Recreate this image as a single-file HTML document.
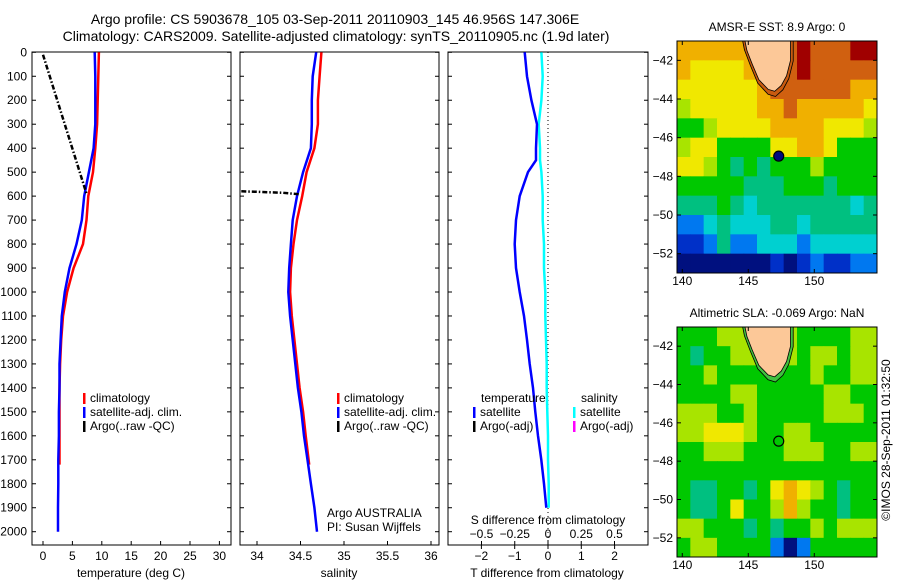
<!DOCTYPE html>
<html><head><meta charset="utf-8"><style>
body{margin:0;background:#fff;}
svg{display:block;font-family:"Liberation Sans",sans-serif;}
text{fill:#000;}
</style></head><body>
<svg id="c" width="900" height="580" viewBox="0 0 900 580" xmlns="http://www.w3.org/2000/svg">
<defs>
<clipPath id="clip1"><rect x="677" y="41" width="200" height="232"/></clipPath>
<clipPath id="clip2"><rect x="677" y="327" width="200" height="230"/></clipPath>
</defs>
<rect width="900" height="580" fill="#fff"/>
<text x="335" y="24" font-size="14" text-anchor="middle">Argo profile: CS 5903678_105 03-Sep-2011 20110903_145 46.956S 147.306E</text>
<text x="336" y="41" font-size="14" text-anchor="middle">Climatology: CARS2009. Satellite-adjusted climatology: synTS_20110905.nc (1.9d later)</text>
<g id="g"></g>
<text transform="translate(890,440) rotate(-90)" font-size="12" text-anchor="middle">©IMOS 28-Sep-2011 01:32:50</text>
</svg>
<script>
// ---- data ----
const depthTicks=[0,100,200,300,400,500,600,700,800,900,1000,1100,1200,1300,1400,1500,1600,1700,1800,1900,2000];
const tempTicks=[0,5,10,15,20,25,30];
const salTicks=[34,34.5,35,35.5,36];
const tdiffTicks=[-2,-1,0,1,2];
const sdiffTicks=[-0.5,-0.25,0,0.25,0.5];
const climDepth=[0,100,200,300,400,500,600,700,800,900,1000,1100,1200,1300,1400,1500,1600,1720];
const climTemp=[9.5,9.4,9.3,9.2,8.9,8.5,7.7,7.4,6.8,5.2,4.1,3.4,3.1,2.9,2.8,2.8,2.8,2.8];
const satDepth=[0,100,200,300,400,500,600,700,800,900,1000,1100,1200,1300,1400,1500,1600,1700,1800,1900,2000];
const satTemp=[8.8,8.9,8.9,8.9,8.6,7.8,7.0,6.6,5.7,4.5,3.7,3.2,3.0,2.8,2.8,2.7,2.7,2.6,2.6,2.55,2.55];
const argoDepth=[10,590];
const argoTemp=[0,7.4];
const climSal=[34.74,34.72,34.70,34.70,34.66,34.57,34.52,34.46,34.42,34.39,34.38,34.40,34.43,34.46,34.49,34.53,34.56,34.60];
const satSal=[34.68,34.64,34.63,34.63,34.62,34.53,34.46,34.41,34.39,34.37,34.36,34.38,34.41,34.44,34.47,34.51,34.54,34.58,34.62,34.66,34.69];
const argoSalDepth=[580,582,586,592];
const argoSal=[33.82,34.0,34.3,34.48];
const diffDepth=[0,100,200,300,400,450,500,600,700,800,900,1000,1100,1200,1300,1400,1500,1600,1700,1800,1900];
const tDiff=[-0.7,-0.63,-0.5,-0.33,-0.36,-0.36,-0.6,-0.85,-0.96,-1.0,-0.96,-0.85,-0.72,-0.63,-0.55,-0.45,-0.38,-0.3,-0.2,-0.12,-0.05];
const sDiff=[-0.05,-0.04,-0.05,-0.07,-0.06,-0.06,-0.05,-0.04,-0.04,-0.03,-0.03,-0.02,-0.02,-0.015,-0.01,-0.01,-0.005,0,0,0.005,0.005];
const latTicks=[-42,-44,-46,-48,-50,-52];
const lonTicks=[140,145,150];
const sstGrid=[
[8,8,8,8,8,8,8,8,9,10,9,9,9,10,10],
[8,7,7,7,7,8,8,8,9,10,9,9,9,9,9],
[7,7,7,7,7,7,8,9,9,9,9,9,9,8,8],
[6,7,7,7,7,7,8,8,9,8,8,8,8,8,7],
[5,5,6,7,7,7,7,8,8,8,8,7,7,7,6],
[6,7,7,5,5,5,5,7,7,8,8,7,5,5,5],
[7,7,6,5,4,5,4,5,5,5,6,5,5,5,5],
[5,5,5,5,5,4,4,4,5,5,5,4,5,5,5],
[4,4,4,5,4,3,4,4,4,4,4,4,4,3,4],
[2,2,3,4,3,3,3,4,4,3,4,4,4,4,4],
[1,1,2,4,2,2,3,3,3,2,3,3,3,3,3],
[0,0,0,0,0,0,0,1,0,1,2,1,1,2,2]];
const slaGrid=[
[5,5,5,6,6,6,6,6,6,5,5,5,5,6,6],
[5,4,5,5,6,6,6,6,6,5,6,6,5,6,6],
[5,5,6,5,5,5,5,5,5,5,6,5,5,6,6],
[5,5,5,5,6,6,5,5,5,5,5,6,6,5,5],
[6,6,6,5,5,6,5,5,5,5,5,6,6,6,5],
[6,6,7,7,7,6,5,5,6,6,5,5,5,5,5],
[5,5,6,6,6,5,5,5,6,6,6,5,5,6,6],
[5,5,5,5,5,5,5,5,5,5,5,5,5,5,5],
[5,4,4,5,5,4,5,7,8,7,6,5,4,5,5],
[5,4,4,5,7,5,5,6,8,6,5,5,4,5,5],
[6,6,5,5,5,4,5,4,5,5,6,5,6,6,6],
[5,6,6,5,5,5,5,2,0,2,5,5,5,5,5]];
const tasLon=[144.6,148.2,148.2,147.9,147.5,147.0,146.5,145.8,145.3,144.9];
const tasLat=[-40.5,-40.5,-42.0,-42.8,-43.3,-43.6,-43.5,-43.0,-42.2,-41.5];
const argoLon=147.306, argoLat=-46.956;

// ---- helpers ----
const NS='http://www.w3.org/2000/svg';
const G=document.getElementById('g');
function mk(tag,attrs,parent){const e=document.createElementNS(NS,tag);for(const k in attrs)e.setAttribute(k,attrs[k]);(parent||G).appendChild(e);return e;}
const TOP=52,BOT=545;
const yD=d=>52.3+d*0.2397;
const xT=t=>43+t*5.88;
const xS=s=>257+(s-34)*87;
const xTd=t=>548+t*33.3;
const xSd=s=>548+s*133;
function line(xs,ys,fx,fy,color,w,dash,name){
  const pts=xs.map((v,i)=>fx(v).toFixed(1)+','+fy(ys[i]).toFixed(1)).join(' ');
  const p=mk('polyline',{points:pts,fill:'none',stroke:color,'stroke-width':w});
  if(dash)p.setAttribute('stroke-dasharray',dash);
  
  
}
function box(x0,x1,name){
  const r=mk('rect',{x:x0,y:TOP,width:x1-x0,height:BOT-TOP,fill:'none',stroke:'#000','stroke-width':1});
  
  
  depthTicks.forEach(d=>{mk('line',{x1:x0,x2:x0+4,y1:yD(d),y2:yD(d),stroke:'#000'});mk('line',{x1:x1-4,x2:x1,y1:yD(d),y2:yD(d),stroke:'#000'});});
}
function txt(x,y,s,size,anchor,name){const t=mk('text',{x:x,y:y,'font-size':size,'text-anchor':anchor||'start'});t.textContent=s;
  
  
  return t;}
function xticks(vals,fx,y,inward,labY,name){vals.forEach(v=>{const x=fx(v);mk('line',{x1:x,x2:x,y1:y,y2:y-4*inward,stroke:'#000'});txt(x,labY,String(v).replace('-','\u2212'),12,'middle',name);});}

// ---- panel 1 ----
box(32,231,'temperature-panel');
depthTicks.forEach(d=>txt(27,yD(d)+4,String(d),12,'end','depth-tick-label'));
xticks(tempTicks,xT,BOT,1,560,'temperature-tick-label');
txt(131,577,'temperature (deg C)',12,'middle','temperature-axis-title');
line(climTemp,climDepth,xT,yD,'#ff0000',2.5,null,'temp-climatology-line');
line(satTemp,satDepth,xT,yD,'#0000ff',2.5,null,'temp-satellite-line');
line(argoTemp,argoDepth,xT,yD,'#000',2.5,'5,2,1.5,2','temp-argo-line');
function legend(x,y,items,prefix){items.forEach((it,i)=>{mk('rect',{x:x,y:y+i*14-9,width:2.5,height:11,fill:it[1]});txt(x+7,y+i*14,it[0],12,'start',prefix+'-legend-entry');});}
legend(83,402,[['climatology','#f00'],['satellite-adj. clim.','#00f'],['Argo(..raw -QC)','#000']],'temp');

// ---- panel 2 ----
box(240,439,'salinity-panel');
xticks(salTicks,xS,BOT,1,560,'salinity-tick-label');
txt(339,577,'salinity',12,'middle','salinity-axis-title');
line(climSal,climDepth,xS,yD,'#ff0000',2.5,null,'sal-climatology-line');
line(satSal,satDepth,xS,yD,'#0000ff',2.5,null,'sal-satellite-line');
line(argoSal,argoSalDepth,xS,yD,'#000',2.5,'5,2,1.5,2','sal-argo-line');
legend(337,402,[['climatology','#f00'],['satellite-adj. clim.','#00f'],['Argo(..raw -QC)','#000']],'sal');
txt(327,517,'Argo AUSTRALIA',12,'start','argo-program-label');
txt(327,531,'PI: Susan Wijffels',12,'start','pi-label');

// ---- panel 3 ----
box(448,648,'difference-panel');
mk('line',{x1:548,x2:548,y1:TOP,y2:BOT,stroke:'#000','stroke-dasharray':'1,3'});
xticks(tdiffTicks,xTd,BOT,-1,560,'t-diff-tick-label');
sdiffTicks.forEach(v=>{const x=xSd(v);mk('line',{x1:x,x2:x,y1:BOT,y2:BOT-4,stroke:'#000'});});
sdiffTicks.forEach(v=>txt(xSd(v),538,String(v).replace('-','\u2212'),12,'middle','s-diff-tick-label'));
txt(548,524,'S difference from climatology',12,'middle','s-diff-axis-title');
txt(547,577,'T difference from climatology',12,'middle','t-diff-axis-title');
line(sDiff,diffDepth,xSd,yD,'#00ffff',2.5,null,'sal-diff-line');
line(tDiff,diffDepth,xTd,yD,'#0000ff',2.5,null,'temp-diff-line');
txt(481,402,'temperature',12,'start','diff-legend-temp-header');
txt(581,402,'salinity',12,'start','diff-legend-sal-header');
legend(473,416,[['satellite','#00f'],['Argo(-adj)','#000']],'diff-temp');
legend(573,416,[['satellite','#0ff'],['Argo(-adj)','#f0f']],'diff-sal');

// ---- maps ----
const cmap=['#00107f','#0030c8','#0078f0','#00d0d0','#00c080','#00c800','#a8e400','#f0e800','#f0b000','#d06010','#a00000'];
function drawMap(y0,y1,grid,title,shelf,filledDot,name,clip){
  const x0=677,x1=877;
  const fx=lon=>x0+(lon-139.6)*13.2;
  const fy=lat=>y0+(-41-lat)*((y1-y0)/12);
  const g=mk('g',{'clip-path':'url(#'+clip+')'});
  
  
  const cw=(x1-x0)/grid[0].length,ch=(y1-y0)/grid.length;
  grid.forEach((row,r)=>row.forEach((v,c)=>{const cell=mk('rect',{x:x0+c*cw,y:y0+r*ch,width:cw+0.5,height:ch+0.5,fill:cmap[v]},g);
    
    }));
  const pts=tasLon.map((lo,i)=>fx(lo)+','+fy(tasLat[i])).join(' ');
  const cx=146.5,cy=-41.8;
  const big=tasLon.map((lo,i)=>fx(cx+(lo-cx)*1.12)+','+fy(cy+(tasLat[i]-cy)*1.15)).join(' ');
  mk('polygon',{points:big,fill:shelf,stroke:'#000','stroke-width':0.8},g);
  mk('polygon',{points:pts,fill:'#fcc898',stroke:'#000','stroke-width':0.8},g);
  mk('circle',{cx:fx(argoLon),cy:fy(argoLat),r:5,fill:filledDot?'#000a80':'none',stroke:'#000','stroke-width':1.2},g);
  mk('rect',{x:x0,y:y0,width:x1-x0,height:y1-y0,fill:'none',stroke:'#000'});
  latTicks.forEach(l=>{mk('line',{x1:x0,x2:x0+4,y1:fy(l),y2:fy(l),stroke:'#000'});mk('line',{x1:x1-4,x2:x1,y1:fy(l),y2:fy(l),stroke:'#000'});txt(673,fy(l)+4,String(l).replace('-','\u2212'),12,'end','lat-tick-label');});
  lonTicks.forEach(l=>{mk('line',{x1:fx(l),x2:fx(l),y1:y1,y2:y1-4,stroke:'#000'});mk('line',{x1:fx(l),x2:fx(l),y1:y0,y2:y0+4,stroke:'#000'});txt(fx(l),y1+12,String(l),12,'middle','lon-tick-label');});
  txt(777,y0-10,title,12,'middle',name+'-title');
}
drawMap(41,273,sstGrid,'AMSR-E SST: 8.9 Argo: 0','#c85a10',true,'sst-map','clip1');
drawMap(327,557,slaGrid,'Altimetric SLA: -0.069 Argo: NaN','#40c040',false,'sla-map','clip2');
</script>
</body></html>
